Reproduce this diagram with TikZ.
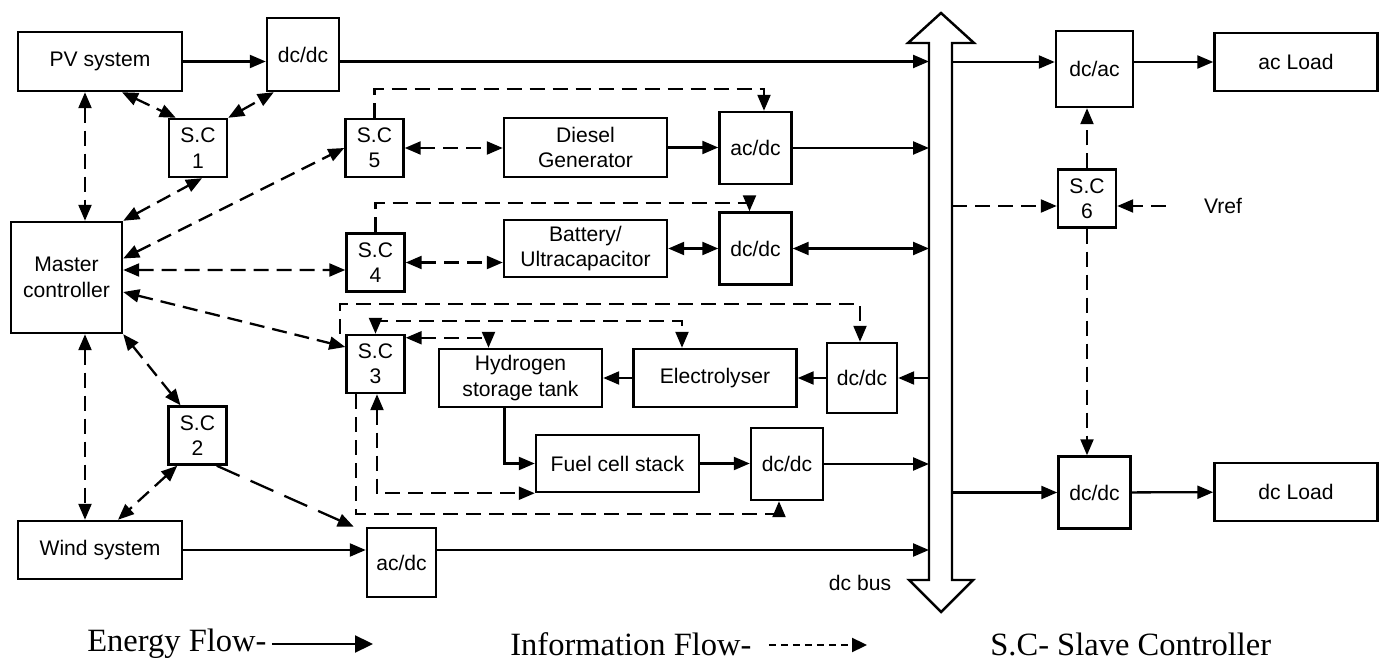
\documentclass[tikz,border=0pt]{standalone}
\usepackage{fontspec}
\setmainfont{Liberation Sans}
\newfontfamily\legendfont{Liberation Serif}
\usetikzlibrary{arrows.meta,calc}

\begin{document}
\begin{tikzpicture}[
  x=0.2mm, y=-0.2mm,
  >={Triangle[length=3.2mm,width=2.6mm]},
  every node/.style={font=\fontsize{12}{14.5}\selectfont},
  box/.style={draw, line width=1.4pt, align=center, inner sep=0pt},
  wide/.style={box, minimum width=32.6mm, minimum height=11.6mm},
  conv/.style={box, minimum width=14.4mm, minimum height=14.4mm},
  slave/.style={box, minimum width=11.6mm, minimum height=11.6mm},
  energy/.style={draw, line width=1.3pt},
  info/.style={draw, line width=1.3pt, dash pattern=on 3mm off 1.6mm},
  longinfo/.style={draw, line width=1.3pt, dash pattern=on 5mm off 2.4mm},
  legend/.style={font=\legendfont\fontsize{18.5}{22}\selectfont, inner sep=0pt, anchor=west}
]
  \useasboundingbox (0,0) rectangle (1383,664);

  \node[wide, minimum width=32.8mm, minimum height=11.8mm] (pv) at (100,61.5) {PV system};
  \node[conv, minimum height=14.6mm] (dcdcpv) at (303,54.5) {dc/dc};
  \node[slave] (sc1) at (198,148) {S.C\\1};
  \node[slave] (sc5) at (374.5,148) {S.C\\5};
  \node[wide, minimum height=11.8mm] (diesel) at (585.5,147.5) {Diesel\\Generator};
  \node[conv] (acdcd) at (755.5,148) {ac/dc};
  \node[box, minimum size=22.2mm] (master) at (66.5,277.5) {Master\\controller};
  \node[slave] (sc4) at (375.5,262.5) {S.C\\4};
  \node[wide, minimum height=11.4mm] (battery) at (585.5,248.5) {Battery/\\Ultracapacitor};
  \node[conv] (dcdcb) at (755.5,248.5) {dc/dc};
  \node[slave] (sc3) at (375.5,364) {S.C\\3};
  \node[wide] (tank) at (520.5,378) {Hydrogen\\storage tank};
  \node[wide] (elec) at (715,378) {Electrolyser};
  \node[conv, minimum size=14mm] (dcdce) at (862,378) {dc/dc};
  \node[wide, minimum height=11.4mm] (fuel) at (617.5,463.5) {Fuel cell stack};
  \node[conv] (dcdcf) at (787,464) {dc/dc};
  \node[slave] (sc2) at (197.5,435.5) {S.C\\2};
  \node[wide, minimum width=32.8mm] (wind) at (100,550) {Wind system};
  \node[conv, minimum size=13.8mm] (acdcw) at (401.5,562.5) {ac/dc};
  \node[conv, minimum width=15.4mm, minimum height=15.2mm] (dcac) at (1094.5,69) {dc/ac};
  \node[wide] (acload) at (1296,62) {ac Load};
  \node[slave] (sc6) at (1087,198.5) {S.C\\6};
  \node[conv] (dcdcl) at (1094.5,492.5) {dc/dc};
  \node[wide] (dcload) at (1296,492) {dc Load};
  \node[inner sep=0pt] (vref) at (1223,206) {Vref};
  \node[inner sep=0pt] (dcbus) at (860,583) {dc bus};

  \coordinate (busL) at (929,0);
  \coordinate (busR) at (952,0);
  \draw[line width=1.4pt, line join=miter] (941,13) -- (974,43) -- (952,43) -- (952,580) -- (973,580)
    -- (941,612) -- (909,580) -- (929,580) -- (929,43) -- (908,43) -- cycle;

  \draw[energy,->] (pv) -- (pv -| dcdcpv.west);
  \draw[energy,->] (pv -| dcdcpv.east) -- (pv -| busL);
  \draw[energy,->] (diesel) -- (diesel -| acdcd.west);
  \draw[energy,->] (acdcd) -- (acdcd -| busL);
  \draw[energy,<->] (battery) -- (battery -| dcdcb.west);
  \draw[energy,<->] (dcdcb) -- (dcdcb -| busL);
  \draw[energy,->] (dcdce -| busL) -- (dcdce);
  \draw[energy,->] (dcdce) -- (elec);
  \draw[energy,->] (elec) -- (tank);
  \draw[energy,->] ($(tank.south)+(-16,0)$) |- (fuel);
  \draw[energy,->] (fuel) -- (fuel -| dcdcf.west);
  \draw[energy,->] (dcdcf) -- (dcdcf -| busL);
  \draw[energy,->] (wind) -- (wind -| acdcw.west);
  \draw[energy,->] (wind -| acdcw.east) -- (wind -| busL);
  \draw[energy,->] (acload -| busR) -- (acload -| dcac.west);
  \draw[energy,->] (acload -| dcac.east) -- (acload);
  \draw[energy,->] (dcdcl -| busR) -- (dcdcl);
  \draw[energy,->] (dcdcl) -- (dcload);

  \coordinate (colA) at (85,0);
  \draw[info,<->] (pv.south -| colA) -- (master.north -| colA);
  \draw[info,<->] (master.south -| colA) -- (wind.north -| colA);
  \draw[info,<->] ($(pv.south)+(22,0)$) -- ($(sc1.north west)+(8,0)$);
  \draw[info,<->] (sc1.north east) -- ($(dcdcpv.south west)+(8,0)$);
  \draw[info,<->] (master.north east) -- ($(sc1.south)+(4,0)$);
  \draw[info,<->] ($(master.east)+(0,-19)$) -- (sc5.west);
  \draw[info,<->] ($(master.east)+(0,-7.5)$) -- ($(sc4.west)+(0,7.5)$);
  \draw[info,<->] ($(master.east)+(0,14.5)$) -- ($(sc3.west)+(0,-17)$);
  \draw[info,<->] (master.south east) -- ($(sc2.north)+(-17,0)$);
  \draw[info,<->] ($(sc2.south west)+(10,0)$) -- ($(wind.north)+(18,0)$);
  \draw[longinfo,->] ($(sc2.south east)+(-11,0)$) -- ($(acdcw.north west)+(-12,0)$);

  \draw[info,<->] (sc5) -- (sc5 -| diesel.west);
  \draw[info,->] (sc5.north) |- ($(acdcd.north)+(8.5,-22)$) -- ($(acdcd.north)+(8.5,0)$);
  \draw[info,<->] (sc4) -- (sc4 -| battery.west);
  \draw[info,->] (sc4.north) |- ($(dcdcb.north)+(-6,-8)$) -- ($(dcdcb.north)+(-6,0)$);
  \draw[info,->] ($(sc3.north west)+(-5,0)$) |- ($(dcdce.north)+(-2,-38)$) -- ($(dcdce.north)+(-2,0)$);
  \draw[info,<->] (sc3.north) |- ($(elec.north)+(-33,-27)$) -- ($(elec.north)+(-33,0)$);
  \draw[info,<->] ($(sc3.north east)+(0,4)$) -| ($(tank.north)+(-32,0)$);
  \draw[info,<->] ($(sc3.south)+(1.5,0)$) |- (fuel.south west);
  \draw[info,->] ($(sc3.south west)+(11,0)$) |- ($(dcdcf.south)+(-8,13)$) -- ($(dcdcf.south)+(-8,0)$);

  \coordinate (sc6in) at ($(sc6.west)+(0,7.5)$);
  \draw[info,->] (sc6in -| busR) -- (sc6in);
  \draw[info,->,shorten <=7.6mm] (vref) -- (vref -| sc6.east);
  \draw[info,->] (sc6) -- (sc6 |- dcac.south);
  \draw[info,->] (sc6) -- (sc6 |- dcdcl.north);

  \node[legend] (lgenergy) at (87,644) {Energy Flow-};
  \coordinate (lgenergyend) at (373,644);
  \draw[energy,-{Triangle[length=3.6mm,width=3.4mm]},shorten <=1mm] (lgenergy.east |- lgenergyend) -- (lgenergyend);
  \node[legend] (lginfo) at (510,644) {Information Flow-};
  \coordinate (lginfoend) at (867,645);
  \draw[info,dash pattern=on 1.4mm off 1mm,-{Triangle[length=3mm,width=2.8mm]},shorten <=3.4mm] (lginfo.east |- lginfoend) -- (lginfoend);
  \node[legend] (lgslave) at (990,644) {S.C- Slave Controller};
\end{tikzpicture}
\end{document}
